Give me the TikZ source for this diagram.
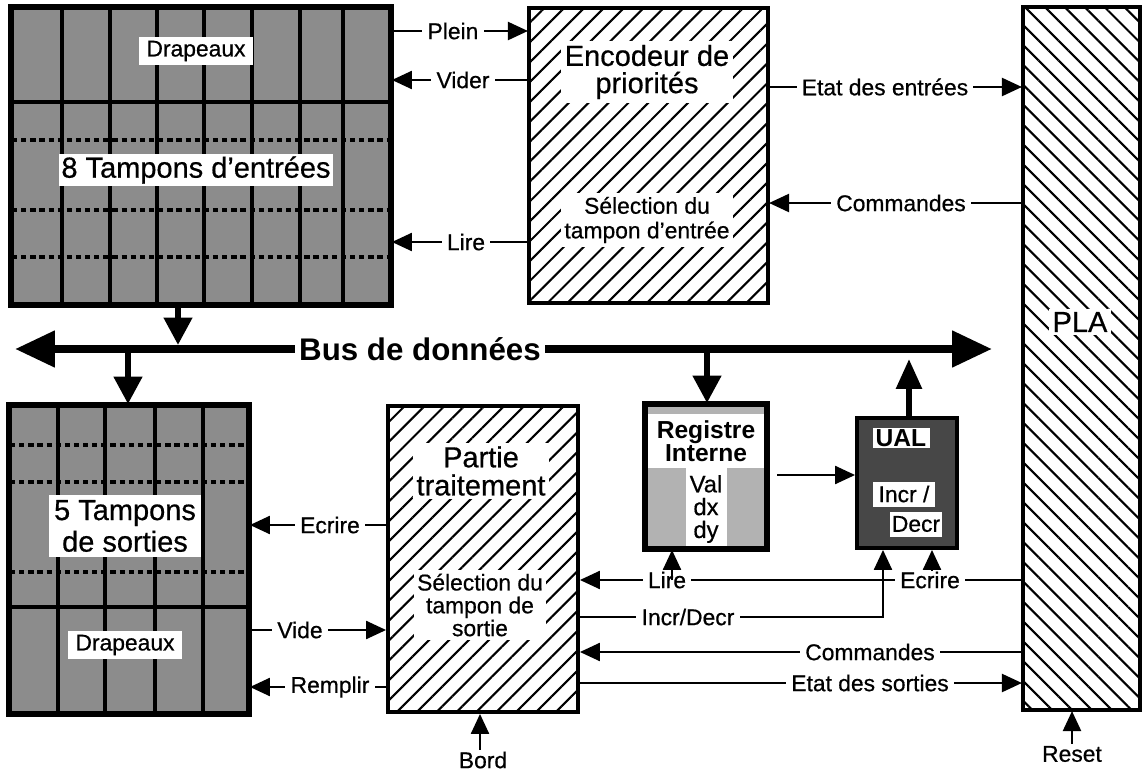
\documentclass[tikz,border=0pt]{standalone}
\usepackage{fontspec}
\setmainfont{Liberation Sans}[UprightFeatures={FakeBold=0.6}]
\usetikzlibrary{arrows.meta,patterns.meta,fit}
\begin{document}
\begin{tikzpicture}[x=0.02cm,y=-0.02cm,
  box/.style={draw, line width=2.2pt, inner sep=0pt},
  sepline/.style={line width=2.2pt},
  dshline/.style={line width=2pt, dash pattern=on 3pt off 2.2pt},
  hatchR/.style={pattern={Lines[angle=45,distance=8pt,line width=1.2pt]}},
  hatchL/.style={pattern={Lines[angle=-45,distance=8pt,line width=1.2pt]}},
  lbl/.style={font=\fontsize{13}{14}\selectfont, fill=white, inner xsep=3pt, inner ysep=1pt},
  midtxt/.style={font=\fontsize{13}{14}\selectfont, align=center, fill=white, inner sep=2pt},
  bigtxt/.style={font=\fontsize{16.5}{16}\selectfont, align=center, fill=white, inner sep=2pt},
  conn/.style={line width=1.3pt, -{Triangle[length=0.4cm,width=0.36cm]}},
  tapdown/.style={line width=3.5pt, -{Triangle[length=0.55cm,width=0.55cm]}},
  bus/.style={line width=4.6pt, {Triangle[length=0.8cm,width=0.7cm]}-{Triangle[length=0.8cm,width=0.7cm]}}
]
\useasboundingbox (0,0) rectangle (1144,771);

% ---------- input buffers ----------
\node[box, fill=black!45, fit={(12,8) (390,304)}] (tb) {};
\foreach \x in {62,110,157,204,252,300,343} \draw[sepline] (\x,8) -- (\x,304);
\draw[sepline] (12,102) -- (390,102);
\foreach \y in {140,210,257} \draw[dshline] (12,\y) -- (390,\y);
\draw[line width=2.2pt] (tb.north west) rectangle (tb.south east);
\node[midtxt, inner xsep=4pt] (tbflag) at (196,51) {Drapeaux};
\node[bigtxt, inner sep=1.5pt] (tbname) at (196,170) {8 Tampons d'entrées};

% ---------- output buffers ----------
\node[box, fill=black!45, fit={(10,406) (248,713)}] (ob) {};
\foreach \x in {58,105,155,203} \draw[sepline] (\x,406) -- (\x,713);
\draw[sepline] (10,607) -- (248,607);
\foreach \y in {445,482,572} \draw[dshline] (10,\y) -- (248,\y);
\draw[line width=2.2pt] (ob.north west) rectangle (ob.south east);
\node[bigtxt, font=\fontsize{16.5}{18}\selectfont, inner sep=3pt] (obname) at (125,526) {5 Tampons\\de sorties};
\node[midtxt, inner xsep=4pt] (obflag) at (125,645) {Drapeaux};

% ---------- encoder ----------
\node[box, hatchR, fit={(529,8) (768,303)}] (enc) {};
\node[bigtxt, font=\fontsize{16.5}{15.5}\selectfont] (enctit) at (647,72) {Encodeur de\\priorités};
\node[midtxt] (encsel) at (647,220) {Sélection du\\tampon d'entrée};

% ---------- PLA ----------
\node[box, hatchL, fit={(1023,7) (1140,710)}] (pla) {};
\node[bigtxt] (platxt) at (1080,322) {PLA};

% ---------- partie traitement ----------
\node[box, hatchR, fit={(388,406) (578,712)}] (pt) {};
\node[bigtxt] (pttit) at (481,471) {Partie\\traitement};
\node[midtxt, font=\fontsize{13}{13}\selectfont] (ptsel) at (480,605) {Sélection du\\tampon de\\sortie};

% ---------- registre interne ----------
\node[box, fill=black!30, fit={(646,405) (766,548)}] (reg) {};
\fill[white] (648,414) rectangle (764,468);
\fill[white] (686,468) rectangle (727,546);
\draw[line width=2.2pt] (reg.north west) rectangle (reg.south east);
\node[font=\bfseries\fontsize{14}{13}\selectfont, align=center, inner sep=0pt] (regtit) at (706,441) {Registre\\Interne};
\node[font=\fontsize{13.5}{13}\selectfont, align=center, inner sep=0pt] (regval) at (706,509) {Val\\dx\\dy};

% ---------- UAL ----------
\node[box, fill=black!72, fit={(857,418) (957,548)}] (ual) {};
\node[font=\bfseries\fontsize{14}{14}\selectfont, fill=white, minimum width=57*0.02cm, minimum height=20*0.02cm, inner sep=0pt] (ualtit) at (901,438) {UAL};
\node[font=\fontsize{13}{14}\selectfont, fill=white, minimum width=62*0.02cm, minimum height=25*0.02cm, inner sep=0pt] (ualinc) at (904,494) {Incr /};
\node[font=\fontsize{13}{14}\selectfont, fill=white, minimum width=52*0.02cm, minimum height=25*0.02cm, inner sep=0pt] (ualdec) at (916,524) {Decr};

% ---------- data bus ----------
\coordinate (busL) at (15,349);
\coordinate (busR) at (992,349);
\draw[bus] (busL) -- (busR);
\node[font=\bfseries\fontsize{17.8}{18}\selectfont, fill=white, inner xsep=2.5pt, inner ysep=3pt] (busname) at (420,349) {Bus de données};

\coordinate (tapA) at (178,345);
\draw[tapdown] (tb.south -| tapA) -- (tapA);
\coordinate (tapB) at (128,353);
\draw[tapdown] (tapB) -- (ob.north -| tapB);
\coordinate (tapC) at (707,353);
\draw[tapdown] (tapC) -- (reg.north -| tapC);
\coordinate (tapD) at (909,359);
\draw[line width=3.3pt, -{Triangle[length=0.6cm,width=0.5cm]}] (ual.north -| tapD) -- (tapD);

% ---------- upper connectors ----------
\draw[conn] (tb.east |- 0,31) -- (enc.west |- 0,31);
\node[lbl] (lplein) at (453,31) {Plein};
\draw[conn] (enc.west |- 0,80) -- (tb.east |- 0,80);
\node[lbl] (lvider) at (463,80) {Vider};
\draw[conn] (enc.west |- 0,242) -- (tb.east |- 0,242);
\node[lbl] (llire1) at (466,242) {Lire};
\draw[conn] (enc.east |- 0,87) -- (pla.west |- 0,87);
\node[lbl] (letatin) at (885,87) {Etat des entrées};
\draw[conn] (pla.west |- 0,203) -- (enc.east |- 0,203);
\node[lbl] (lcmd1) at (901,203) {Commandes};

% ---------- lower-left connectors ----------
\draw[conn] (pt.west |- 0,525) -- (ob.east |- 0,525);
\node[lbl] (lecr1) at (330,525) {Ecrire};
\draw[conn] (ob.east |- 0,630) -- (pt.west |- 0,630);
\node[lbl] (lvide) at (300,630) {Vide};
\draw[conn] (pt.west |- 0,687) -- (ob.east |- 0,687);
\node[lbl] (lrempl) at (330,687) {Remplir};

% ---------- lower-right connectors ----------
\draw[conn] (pla.west |- 0,580) -- (pt.east |- 0,580);
\node[lbl] (llire2) at (667,580) {Lire};
\node[lbl] (lecr2) at (930,580) {Ecrire};
\coordinate (jL) at (672,580);
\draw[conn] (jL) -- (reg.south -| jL);
\coordinate (jE) at (932,571);
\draw[conn] (jE) -- (ual.south -| jE);
\draw[conn] (pt.east |- 0,617) -| (ual.south -| 883,0);
\node[lbl] (lincr) at (688,617) {Incr/Decr};
\draw[conn] (pla.west |- 0,652) -- (pt.east |- 0,652);
\node[lbl] (lcmd2) at (870,652) {Commandes};
\draw[conn] (pt.east |- 0,683) -- (pla.west |- 0,683);
\node[lbl] (letatout) at (870,683) {Etat des sorties};

\coordinate (rOut) at (777,475);
\draw[conn] (rOut) -- (ual.west |- rOut);

% ---------- external inputs ----------
\node[lbl] (bord) at (483,760) {Bord};
\draw[conn] (bord.north -| 480,0) -- (pt.south -| 480,0);
\node[lbl] (reset) at (1072,754) {Reset};
\draw[conn] (reset.north) -- (pla.south -| reset.north);
\end{tikzpicture}
\end{document}
